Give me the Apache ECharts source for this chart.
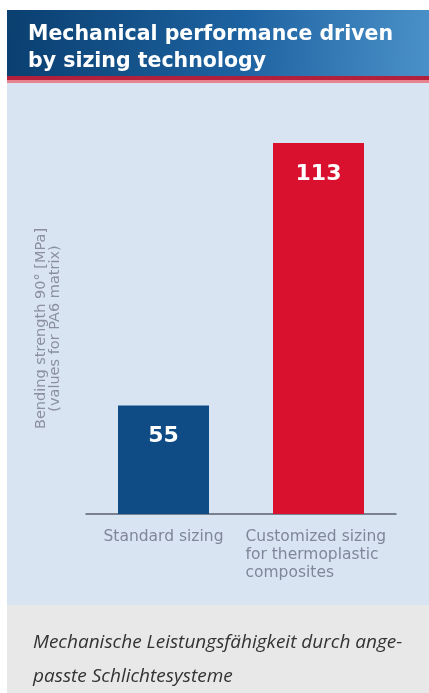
<!DOCTYPE html>
<html>
<head>
<meta charset="utf-8">
<script src="https://cdn.jsdelivr.net/npm/echarts@6/dist/echarts.min.js"></script>
<style>
html,body{margin:0;padding:0;background:#ffffff;}
#c{width:429px;height:693px;}
</style>
</head>
<body>
<div id="c"></div>
<script>
var categories = ['Standard sizing', 'Customized sizing\nfor thermoplastic\ncomposites'];
var values = [55, 113];
var barColors = ['#0f4c85', '#d9112f'];
var titleLines = ['Mechanical performance driven', 'by sizing technology'];
var yAxisName = 'Bending strength 90° [MPa]\n(values for PA6 matrix)';
var captionLines = ['Mechanische Leistungsfähigkeit durch ange-', 'passte Schlichtesysteme'];

var chart = echarts.init(document.getElementById('c'), null, {renderer: 'canvas'});
var option = {
  animation: false,
  backgroundColor: '#ffffff',
  graphic: [
    {type: 'rect', shape: {x: 7, y: 83, width: 422, height: 522}, style: {fill: '#d9e4f2'}, z: -10},
    {type: 'rect', shape: {x: 7, y: 605, width: 422, height: 88}, style: {fill: '#e8e8e8'}, z: -10},
    {type: 'rect', shape: {x: 7, y: 10, width: 422, height: 67},
      style: {fill: new echarts.graphic.LinearGradient(0, 0, 1, 0.3, [
        {offset: 0, color: '#0a3f70'}, {offset: 0.55, color: '#1d62a0'}, {offset: 1, color: '#4a90c8'}])}, z: -10},
    {type: 'rect', shape: {x: 7, y: 76, width: 422, height: 4}, style: {fill: '#b3203c'}, z: -9},
    {type: 'rect', shape: {x: 7, y: 80, width: 422, height: 3}, style: {fill: '#e9828f'}, z: -9},
    {type: 'text', left: 28, top: 21, z: 10,
      style: {text: titleLines.join('\n'), fill: '#ffffff', font: 'bold 20.5px "DejaVu Sans"', lineHeight: 27}},
    {type: 'text', left: 33, top: 626, z: 10,
      style: {text: captionLines.join('\n'), fill: '#333333', font: 'italic 19px "Open Sans"', lineHeight: 34}}
  ],
  grid: {left: 86, right: 33, top: 143, bottom: 179, containLabel: false},
  xAxis: {
    type: 'category',
    data: categories,
    axisLine: {show: true, lineStyle: {color: '#5a6070', width: 1.5}},
    axisTick: {show: false},
    axisLabel: {
      interval: 0,
      margin: 14,
      color: '#80869a',
      fontFamily: 'DejaVu Sans',
      fontSize: 15.5,
      lineHeight: 18,
      formatter: function (v) {
        var parts = v.split('\n');
        if (parts.length === 1) { return v; }
        return parts.map(function (s) { return '{a|' + s + '}'; }).join('\n');
      },
      rich: {a: {color: '#80869a', fontFamily: 'DejaVu Sans', fontSize: 15.5, lineHeight: 18, width: 146, align: 'left'}}
    }
  },
  yAxis: {
    type: 'value',
    min: 31,
    max: 113,
    show: true,
    axisLine: {show: false},
    axisTick: {show: false},
    axisLabel: {show: false},
    splitLine: {show: false},
    name: yAxisName,
    nameLocation: 'middle',
    nameRotate: 90,
    nameGap: 24,
    nameTextStyle: {color: '#8a90a0', fontFamily: 'DejaVu Sans', fontSize: 14.5, lineHeight: 14}
  },
  series: [{
    type: 'bar',
    data: values.map(function (v, i) { return {value: v, itemStyle: {color: barColors[i]}}; }),
    barWidth: 91,
    label: {
      show: true,
      position: 'insideTop',
      distance: 20,
      color: '#ffffff',
      fontFamily: 'DejaVu Sans',
      fontWeight: 'bold',
      fontSize: 22
    }
  }]
};
chart.setOption(option);
</script>
</body>
</html>
